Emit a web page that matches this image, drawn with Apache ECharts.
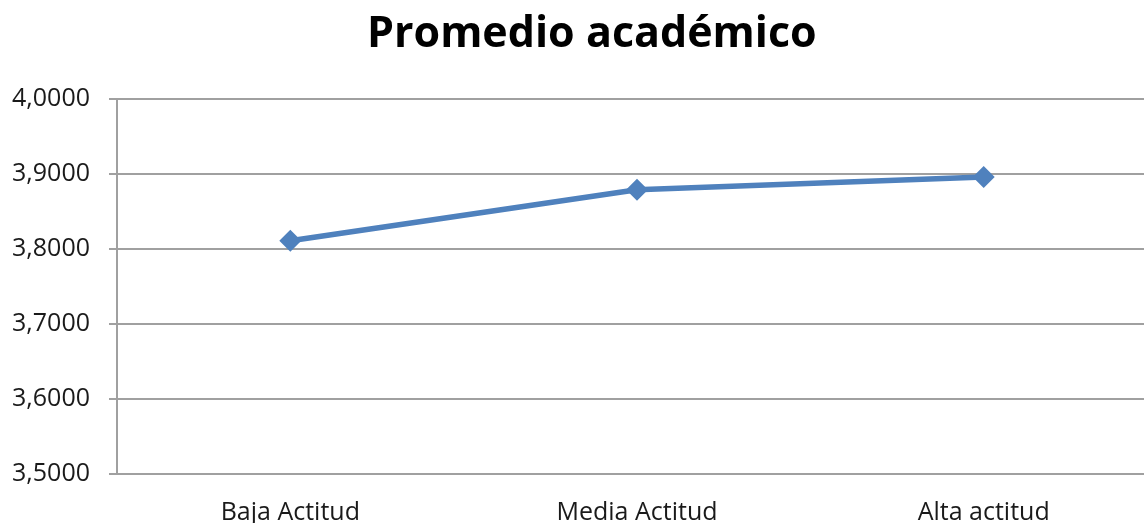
<!DOCTYPE html>
<html lang="es">

<head>
    <meta charset="UTF-8">
    <title>Promedio académico</title>
    <style>
        body { margin: 0; background: #fff; }
    </style>
</head>

<body>
    <div id="chart" style="width: 1144px; height: 523px;"></div>
    <script src="https://cdn.jsdelivr.net/npm/echarts@6/dist/echarts.min.js"></script>
    <script>
        // datos
        var categorias = ['Baja Actitud', 'Media Actitud', 'Alta actitud']
        var promedio = [3.811, 3.879, 3.896]
        var ejeMin = 3.5
        var ejeMax = 4.0
        var ejePaso = 0.1

        var gris = '#a0a0a0'
        var azul = '#4f81bd'
        var chart = echarts.init(document.getElementById('chart'))

        var option = {
            animation: false,
            title: {
                text: 'Promedio académico',
                left: 362,
                top: 8,
                textStyle: {
                    fontFamily: 'Open Sans',
                    fontWeight: 'bold',
                    fontSize: 43,
                    color: '#000'
                }
            },
            grid: {
                left: 117,
                top: 99,
                bottom: 49,
                right: -13,
                outerBoundsMode: 'none',
                containLabel: false
            },
            xAxis: {
                type: 'category',
                data: categorias,
                boundaryGap: true,
                axisLine: { lineStyle: { color: gris, width: 2 } },
                axisTick: { length: 10, lineStyle: { color: gris, width: 2 } },
                axisLabel: {
                    margin: 26,
                    fontFamily: 'Open Sans',
                    fontSize: 25,
                    color: '#1a1a1a'
                }
            },
            yAxis: {
                type: 'value',
                min: ejeMin,
                max: ejeMax,
                interval: ejePaso,
                axisLine: { show: true, lineStyle: { color: gris, width: 2 } },
                axisTick: { show: true, length: 8, lineStyle: { color: gris, width: 2 } },
                splitLine: { lineStyle: { color: gris, width: 2 } },
                axisLabel: {
                    margin: 27,
                    fontFamily: 'Open Sans',
                    fontSize: 25,
                    color: '#1a1a1a',
                    formatter: function (v) {
                        return v.toFixed(4).replace('.', ',')
                    }
                }
            },
            series: [{
                type: 'line',
                data: promedio,
                symbol: 'diamond',
                symbolSize: 22,
                itemStyle: { color: azul },
                lineStyle: { color: azul, width: 5.5 }
            }]
        }

        chart.setOption(option)
    </script>
</body>

</html>
